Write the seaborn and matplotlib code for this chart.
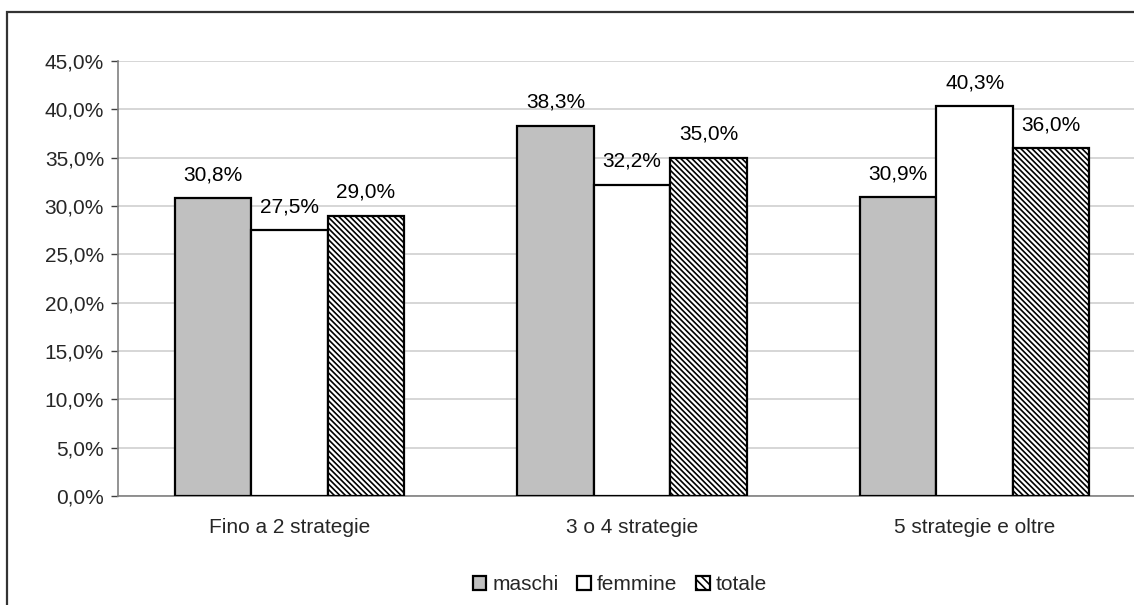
import matplotlib
matplotlib.use("Agg")
import matplotlib.pyplot as plt
from matplotlib.patches import Rectangle, Patch
from matplotlib.ticker import FuncFormatter, MultipleLocator, FixedLocator, NullFormatter
import seaborn as sns
import pandas as pd

categories = ["Fino a 2 strategie", "3 o 4 strategie", "5 strategie e oltre"]
maschi = [30.8, 38.3, 30.9]
femmine = [27.5, 32.2, 40.3]
totale = [29.0, 35.0, 36.0]
series_names = ["maschi", "femmine", "totale"]

rows = []
for name, vals in zip(series_names, [maschi, femmine, totale]):
    for cat, v in zip(categories, vals):
        rows.append({"categoria": cat, "serie": name, "valore": v})
df = pd.DataFrame(rows)

sns.set_style("white")
plt.rcParams["font.family"] = ["Liberation Sans", "DejaVu Sans"]
plt.rcParams["hatch.linewidth"] = 1.2
plt.rcParams["hatch.color"] = "#2a2a2a"

FS = 15
HATCH = "\\\\\\\\\\\\"

W, H = 1134, 605
fig = plt.figure(figsize=(W / 100, H / 100), dpi=100)
ax = fig.add_axes([118 / W, (H - 496) / H, (1146 - 118) / W, (496 - 61) / H])

palette = {"maschi": "#c0c0c0", "femmine": "#ffffff", "totale": "#ffffff"}
sns.barplot(data=df, x="categoria", y="valore", hue="serie", order=categories,
            hue_order=series_names, palette=palette, width=0.67, ax=ax,
            edgecolor="black", linewidth=1.6, saturation=1, legend=False, zorder=3)

for bar in ax.containers[2]:
    bar.set_hatch(HATCH)

# value labels above each bar
for cont, vals in zip(ax.containers, [maschi, femmine, totale]):
    for bar, v in zip(cont, vals):
        ax.annotate(f"{v:.1f}%".replace(".", ","),
                    (bar.get_x() + bar.get_width() / 2, bar.get_height()),
                    xytext=(0, 10), textcoords="offset points",
                    ha="center", va="bottom", fontsize=FS, color="black")

ax.set_ylim(0, 45)
ax.set_xlim(-0.5, 2.5)
ax.yaxis.set_major_locator(MultipleLocator(5))
ax.yaxis.set_major_formatter(FuncFormatter(lambda v, p: f"{v:.1f}%".replace(".", ",")))
ax.grid(axis="y", color="#d0d0d0", linewidth=1.2, zorder=0)
ax.set_axisbelow(True)

ax.xaxis.set_major_locator(FixedLocator([0, 1, 2]))
ax.xaxis.set_minor_locator(FixedLocator([0.5, 1.5]))
ax.xaxis.set_minor_formatter(NullFormatter())
ax.tick_params(axis="x", which="major", length=0, pad=16, labelsize=FS)
ax.tick_params(axis="x", which="minor", length=5, width=1, color="#404040", direction="out")
ax.tick_params(axis="y", length=5, width=1, color="#404040", direction="out",
               left=True, labelsize=FS, pad=5)
ax.set_xlabel("")
ax.set_ylabel("")

for side in ["top", "right"]:
    ax.spines[side].set_visible(False)
ax.spines["left"].set_color("#808080")
ax.spines["bottom"].set_color("#808080")
ax.spines["left"].set_linewidth(1.2)
ax.spines["bottom"].set_linewidth(1.2)

# outer chart frame
fig.add_artist(Rectangle((7 / W, -0.1), 1.2, 1.1 - 12 / H, transform=fig.transFigure,
                         fill=False, edgecolor="#333333", linewidth=1.6))

handles = [Patch(facecolor="#c0c0c0", edgecolor="black", linewidth=1.6),
           Patch(facecolor="white", edgecolor="black", linewidth=1.6),
           Patch(facecolor="white", edgecolor="black", linewidth=1.6, hatch="\\\\\\\\")]
fig.legend(handles, series_names, loc="center", bbox_to_anchor=(620 / W, 1 - 585 / H),
           ncol=3, frameon=False, fontsize=FS, handlelength=0.65, handleheight=0.65,
           handletextpad=0.3, columnspacing=0.9, borderpad=0.1)

fig.savefig("out.png", dpi=100)
